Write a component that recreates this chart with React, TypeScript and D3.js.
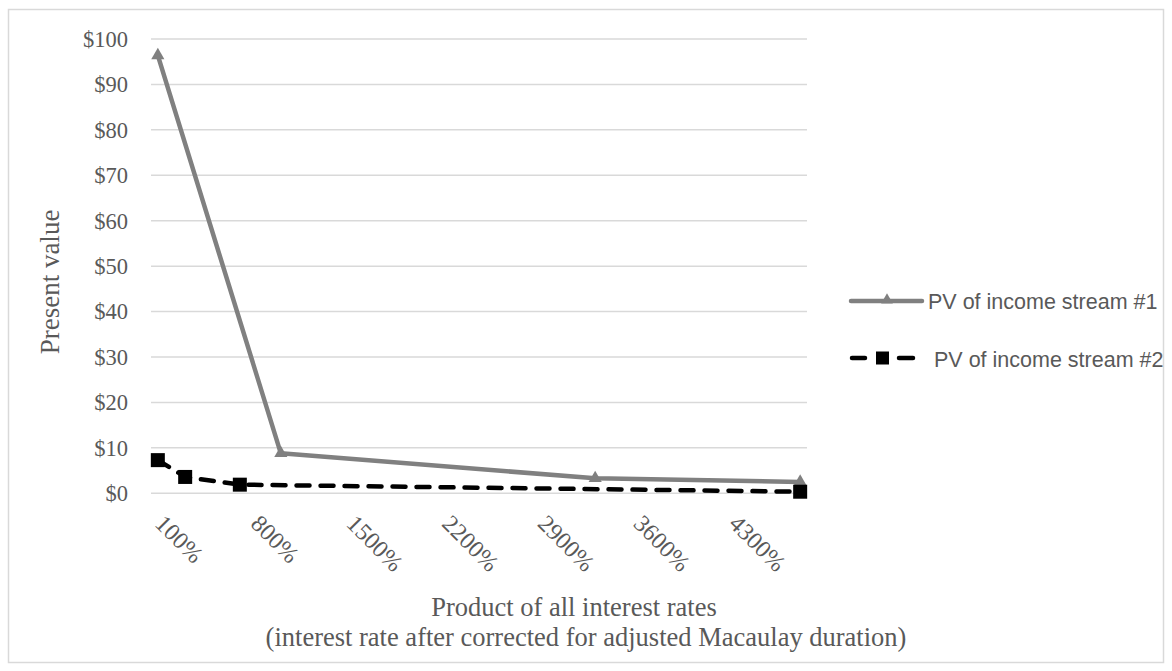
import React from "react";
import * as d3 from "d3";

const xTicks = [100, 800, 1500, 2200, 2900, 3600, 4300];
const yTicks = [0, 10, 20, 30, 40, 50, 60, 70, 80, 90, 100];

const s1X = [100, 1000, 3300, 4800];
const s1Y = [96.4, 8.8, 3.3, 2.5];
const s2X = [100, 300, 700, 4800];
const s2Y = [7.3, 3.6, 1.9, 0.35];

const seriesNames = ["PV of income stream #1", "PV of income stream #2"];

const W = 1172;
const H = 671;
const plot = { left: 151, right: 807, top: 39, bottom: 493.3 };

const serif = "'Liberation Serif', 'Times New Roman', serif";
const sans = "'Liberation Sans', Arial, sans-serif";
const textGray = "#595959";
const s1Color = "#808080";

export default function App() {
  const x = d3.scaleLinear().domain([50, 4850]).range([plot.left, plot.right]);
  const y = d3.scaleLinear().domain([0, 100]).range([plot.bottom, plot.top]);

  const line = d3
    .line<[number, number]>()
    .x((d) => x(d[0]))
    .y((d) => y(d[1]));

  const s1 = s1X.map((v, i) => [v, s1Y[i]] as [number, number]);
  const s2 = s2X.map((v, i) => [v, s2Y[i]] as [number, number]);

  const tri = d3.symbol().type(d3.symbolTriangle).size(75)();
  const triSmall = d3.symbol().type(d3.symbolTriangle).size(60)();

  return (
    <svg
      width={W}
      height={H}
      style={{ position: "absolute", left: 0, top: 0, background: "#fff" }}
    >
      <rect x={8.5} y={9.5} width={1155} height={653} fill="#fff" stroke="#d9d9d9" strokeWidth={1.5} />

      {yTicks.map((t) => (
        <g key={t}>
          <line x1={plot.left} x2={plot.right} y1={y(t)} y2={y(t)} stroke="#d9d9d9" strokeWidth={1.5} />
          <text
            x={128}
            y={y(t)}
            dy="0.35em"
            textAnchor="end"
            fontFamily={serif}
            fontSize={22.5}
            fill={textGray}
          >
            {"$" + t}
          </text>
        </g>
      ))}

      {xTicks.map((t) => (
        <text
          key={t}
          transform={`translate(${x(t) - 4},${525}) rotate(45)`}
          fontFamily={serif}
          fontSize={24}
          fill={textGray}
        >
          {t + "%"}
        </text>
      ))}

      <text
        transform={`translate(59,282) rotate(-90)`}
        textAnchor="middle"
        fontFamily={serif}
        fontSize={27}
        fill={textGray}
      >
        Present value
      </text>

      <text x={574} y={616} textAnchor="middle" fontFamily={serif} fontSize={26.5} fill={textGray}>
        Product of all interest rates
      </text>
      <text x={586} y={646} textAnchor="middle" fontFamily={serif} fontSize={26.5} fill={textGray}>
        (interest rate after corrected for adjusted Macaulay duration)
      </text>

      <path d={line(s1) || ""} fill="none" stroke={s1Color} strokeWidth={4.5} strokeLinejoin="round" />
      {s1.map((d, i) => (
        <path key={i} d={tri || ""} transform={`translate(${x(d[0])},${y(d[1])})`} fill={s1Color} />
      ))}

      <path
        d={line(s2) || ""}
        fill="none"
        stroke="#000"
        strokeWidth={4.5}
        strokeDasharray="13 11"
        strokeLinecap="round"
        strokeLinejoin="round"
      />
      {s2.map((d, i) => (
        <rect key={i} x={x(d[0]) - 7} y={y(d[1]) - 7} width={14} height={14} fill="#000" />
      ))}

      {/* legend */}
      <line x1={851} x2={922} y1={301} y2={301} stroke={s1Color} strokeWidth={4.5} strokeLinecap="round" />
      <path d={triSmall || ""} transform="translate(887,300)" fill={s1Color} />
      <text x={928} y={309} fontFamily={sans} fontSize={21.5} fill={textGray}>
        {seriesNames[0]}
      </text>

      <line x1={852} x2={865} y1={358} y2={358} stroke="#000" strokeWidth={4.5} strokeLinecap="round" />
      <line x1={899} x2={913} y1={358} y2={358} stroke="#000" strokeWidth={4.5} strokeLinecap="round" />
      <rect x={876} y={351.5} width={13} height={13} fill="#000" />
      <text x={934} y={367} fontFamily={sans} fontSize={21.5} fill={textGray}>
        {seriesNames[1]}
      </text>
    </svg>
  );
}
